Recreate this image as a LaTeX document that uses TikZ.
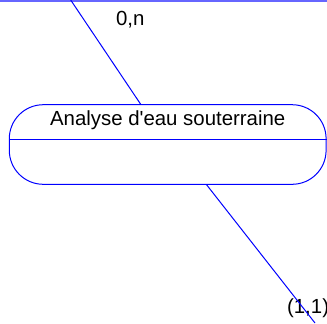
\documentclass[tikz,border=0pt]{standalone}
\usepackage{fontspec}
\setmainfont{Liberation Sans}
\begin{document}
\begin{tikzpicture}[x=0.5pt, y=-0.5pt, font=\fontsize{10.2}{12}\selectfont,
    entity/.style={rectangle, draw=blue, line width=0.5pt, rounded corners=17pt, minimum width=158.4pt, minimum height=39.8pt, inner sep=0pt},
    link/.style={draw=blue, line width=0.5pt}]
        \useasboundingbox (0,0) rectangle (327,323);
        \draw[blue!60, line width=0.8pt] (0,0.8) -- (327,0.8);
        \node[entity] (analyse) at (167.7, 144.5) {};
        \node[anchor=base] (titre) at (167.7, 125) {Analyse d\textquotesingle eau souterraine};
        \draw[link] (analyse.west |- 0,139) -- (analyse.east |- 0,139);
        \coordinate (haut) at (70.7, 0);
        \coordinate (bas) at (315, 323);
        \node[anchor=base west, inner sep=0pt] (card1) at (115.7, 25) {0,n};
        \node[anchor=base west, inner sep=0pt] (card2) at (286.7, 313) {(1,1)};
        \draw[link] (haut) -- (analyse);
        \draw[link] (analyse.-46) -- (bas);
    \end{tikzpicture}
\end{document}
